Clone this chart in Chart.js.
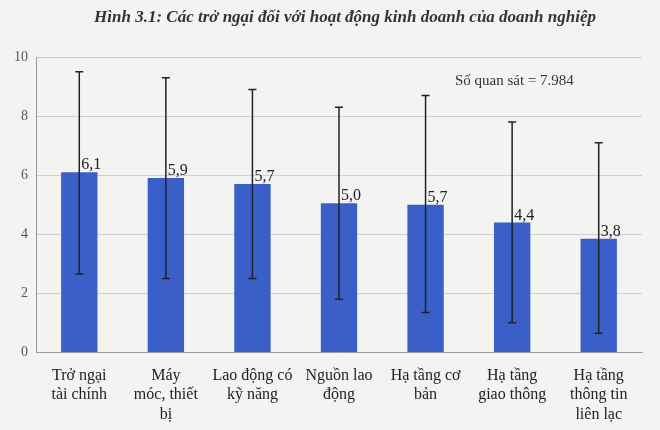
<!DOCTYPE html>
<html><head><meta charset="utf-8">
<script src="https://cdn.jsdelivr.net/npm/chart.js@4/dist/chart.umd.min.js"></script>
<style>html,body{margin:0;padding:0;background:#f3f3f1;}#w{width:660px;height:430px;position:relative;}</style>
</head><body><div id="w"><canvas id="c"></canvas></div>
<script>
const categories=[["Trở ngại","tài chính"],["Máy","móc, thiết","bị"],["Lao động có","kỹ năng"],["Nguồn lao","động"],["Hạ tầng cơ","bản"],["Hạ tầng","giao thông"],["Hạ tầng","thông tin","liên lạc"]];
const values=[6.1,5.9,5.7,5.05,5.0,4.4,3.85];
const valueLabels=["6,1","5,9","5,7","5,0","5,7","4,4","3,8"];
const errHigh=[9.5,9.3,8.9,8.3,8.7,7.8,7.1];
const errLow=[2.65,2.5,2.5,1.8,1.35,1.0,0.65];
const yTicks=[0,2,4,6,8,10];
const F='"Liberation Serif", serif';
const plug={id:'x',afterDatasetsDraw(ch){const c=ch.ctx,x=ch.scales.x,y=ch.scales.y;c.save();
c.strokeStyle='#222';c.lineWidth=1.5;
values.forEach((v,i)=>{const px=x.getPixelForValue(i);const t=y.getPixelForValue(errHigh[i]),b=y.getPixelForValue(errLow[i]);
c.beginPath();c.moveTo(px,t);c.lineTo(px,b);c.moveTo(px-4,t);c.lineTo(px+4,t);c.moveTo(px-4,b);c.lineTo(px+4,b);c.stroke();
c.fillStyle='#222';c.font='16px '+F;c.textAlign='left';c.textBaseline='bottom';c.fillText(valueLabels[i],px+2,y.getPixelForValue(v)+1);});
c.font='italic bold 17px '+F;c.textAlign='center';c.textBaseline='middle';c.fillStyle='#333';
c.fillText('Hình 3.1: Các trở ngại đối với hoạt động kinh doanh của doanh nghiệp',345,18);
c.font='15px '+F;c.textAlign='left';c.fillStyle='#333';c.fillText('Số quan sát = 7.984',455,81);
c.restore();}};
new Chart(document.getElementById('c'),{type:'bar',data:{labels:categories,datasets:[{data:values,backgroundColor:'#3a5fc8',barPercentage:0.42,categoryPercentage:1}]},
options:{responsive:true,maintainAspectRatio:false,animation:false,layout:{padding:{top:57,right:18,left:6,bottom:0}},
plugins:{legend:{display:false},tooltip:{enabled:false}},
scales:{y:{min:0,max:10,afterBuildTicks(a){a.ticks=yTicks.map(v=>({value:v}));},ticks:{color:'#555',font:{family:F,size:14},padding:8},grid:{color:'#cfcfcf',drawTicks:false},border:{color:'#999'}},
x:{ticks:{color:'#222',font:{family:F,size:16},maxRotation:0,autoSkip:false,padding:6},grid:{display:false},border:{color:'#999'}}}},plugins:[plug]});
</script></body></html>
